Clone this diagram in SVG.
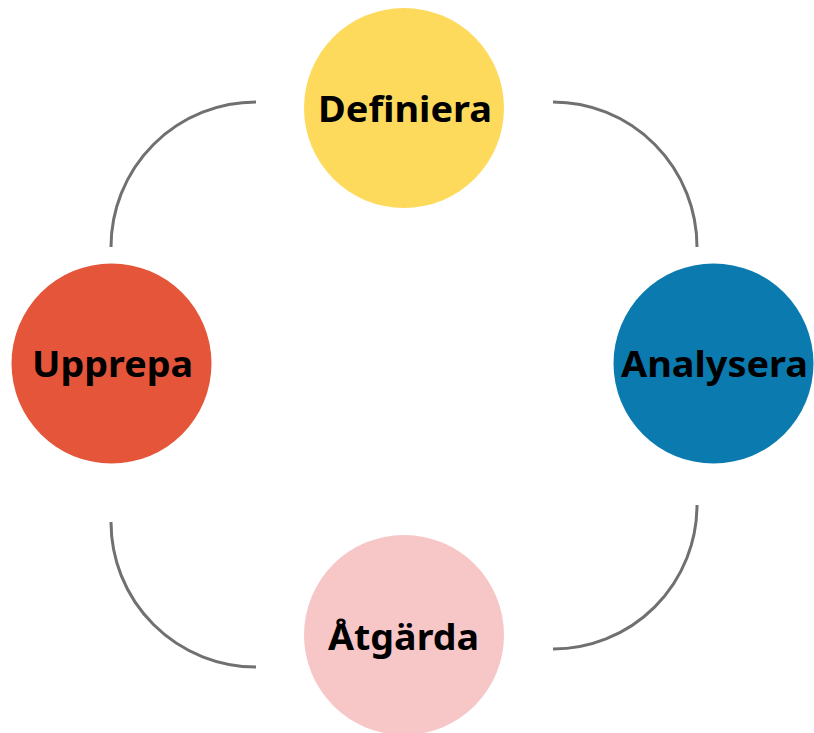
<svg xmlns="http://www.w3.org/2000/svg" width="814" height="733" viewBox="0 0 814 733">
<style>
.lbl{font-family:"Noto Sans","Liberation Sans",sans-serif;font-weight:700;font-size:35px;fill:#000;text-anchor:middle}
.conn{fill:none;stroke:#707070;stroke-width:3;stroke-linecap:butt}
</style>
<rect width="814" height="733" fill="#fff"/>
<g id="connectors">
<path class="conn" d="M111,247 A145,145 0 0 1 256,102"/>
<path class="conn" d="M553,102 A144,145 0 0 1 697,247"/>
<path class="conn" d="M111,522 A145,145 0 0 0 256,667"/>
<path class="conn" d="M697,505 A144,144 0 0 1 553,649"/>
</g>
<g id="definiera">
<circle cx="404" cy="108" r="100" fill="#FEDA5C"/>
<text class="lbl" x="405" y="122" textLength="174" lengthAdjust="spacingAndGlyphs">Definiera</text>
</g>
<g id="analysera">
<circle cx="713.5" cy="363.5" r="100" fill="#0A7AAF"/>
<text class="lbl" x="714.5" y="377" textLength="187" lengthAdjust="spacingAndGlyphs">Analysera</text>
</g>
<g id="upprepa">
<circle cx="111.5" cy="363.5" r="100" fill="#E4553A"/>
<text class="lbl" x="112.5" y="377" textLength="161" lengthAdjust="spacingAndGlyphs">Upprepa</text>
</g>
<g id="atgarda">
<circle cx="404" cy="635" r="100" fill="#F7C6C7"/>
<text class="lbl" x="403.5" y="650" textLength="151" lengthAdjust="spacingAndGlyphs">Åtgärda</text>
</g>
</svg>
